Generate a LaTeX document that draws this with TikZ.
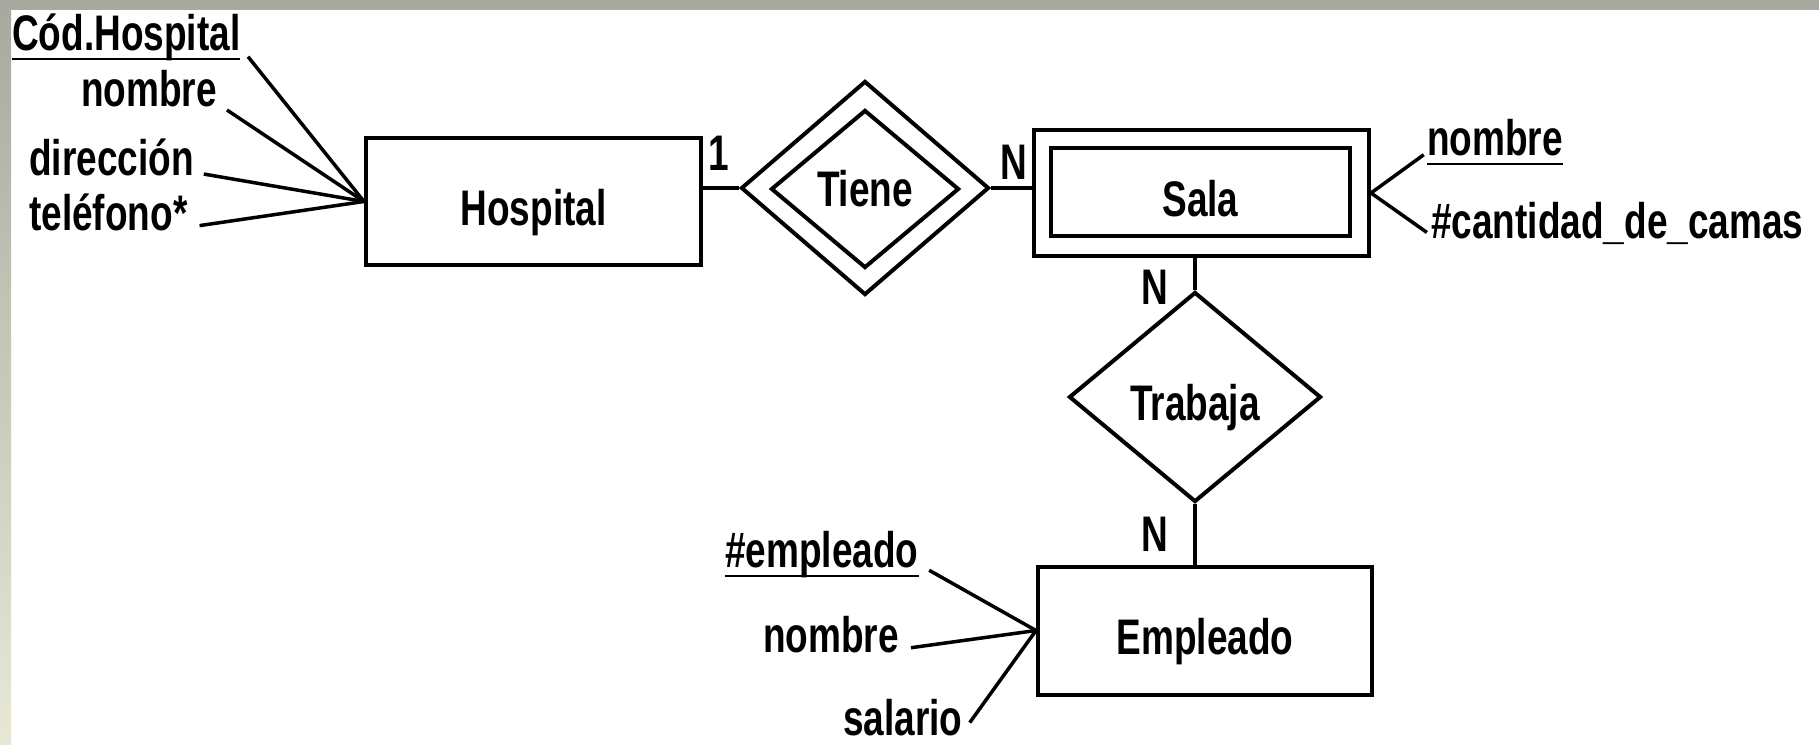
\documentclass[tikz,border=0pt]{standalone}
\usepackage{fontspec}
\setmainfont{Liberation Sans}[FakeStretch=0.74]
\usetikzlibrary{shapes.geometric}
\definecolor{bandgray}{RGB}{169,169,160}
\definecolor{bandbeige}{RGB}{232,232,213}
\newcommand{\erfont}{\fontsize{50}{60}\selectfont\bfseries}
\newcommand{\attrkey}[1]{\setbox0\hbox{#1}\rlap{\rule[-10pt]{\wd0}{2.5pt}}\box0}
\begin{document}
\begin{tikzpicture}[x=1pt,y=1pt,yscale=-1,
  every node/.style={font=\erfont, inner sep=0pt},
  entity/.style={draw, line width=4pt, rectangle, text height=48pt, text depth=0pt},
  relation/.style={draw, line width=4pt, diamond},
  link/.style={line width=3.5pt},
  attrlink/.style={line width=3.5pt, shorten <=#1},
  attrlink/.default=12pt]

%Background
\useasboundingbox (0,0) rectangle (1819,744);
\fill[white] (0,0) rectangle (1819,744);
\fill[bandgray] (0,0) rectangle (1819,10);
\shade[top color=bandgray, bottom color=bandbeige] (0,10) rectangle (11,744);

%Shape: Rectangle
\node[entity, minimum width=335pt, minimum height=127pt] (hosp) at (533.5,201.5) {Hospital};
%Shape: Diamond
\node[relation, minimum width=248pt, minimum height=214pt] (tiene) at (865,188) {};
\node[relation, minimum width=188pt, minimum height=158pt] (tieneIn) at (865,189) {Tiene};
%Shape: Rectangle
\node[entity, minimum width=335pt, minimum height=126pt] (sala) at (1201.5,193) {};
\node[entity, minimum width=299pt, minimum height=88pt] (salaIn) at (1200.5,192) {Sala};
%Shape: Diamond
\node[relation, minimum width=252pt, minimum height=210pt, text height=46pt, text depth=0pt] (trabaja) at (1195,397) {Trabaja};
%Shape: Rectangle
\node[entity, minimum width=334pt, minimum height=128pt] (emp) at (1205,630.5) {Empleado};

%Straight Lines
\draw[link] (tiene.west -| hosp.east) -- (tiene.west);
\draw[link] (tiene.east) -- (tiene.east -| sala.west);
\draw[link] (trabaja.north |- sala.south) -- (trabaja.north);
\draw[link] (trabaja.south) -- (trabaja.south |- emp.north);

% Text Node
\node (card1) at (719,153) {1};
\node (cardN1) at (1014,162) {N};
\node (cardN2) at (1155,287) {N};
\node (cardN3) at (1155,534) {N};

% Text Node
\node[anchor=base west] (hcod) at (12,50) {\attrkey{Cód.Hospital}};
\node[anchor=base east] (hnom) at (217,106) {nombre};
\node[anchor=base west] (hdir) at (29,175) {dirección};
\node[anchor=base west] (htel) at (29,230) {teléfono*};
\node[anchor=base west] (snom) at (1427,155) {\attrkey{nombre}};
\node[anchor=base west] (scam) at (1431,238) {\#cantidad\_de\_camas};
\node[anchor=base west] (enum) at (725,567) {\attrkey{\#empleado}};
\node[anchor=base west] (enom) at (763,652) {nombre};
\node[anchor=base west] (esal) at (843,735) {salario};

%Straight Lines
\draw[attrlink] (hcod.mid east) -- (hosp.west);
\draw[attrlink] (hnom.mid east) -- (hosp.west);
\draw[attrlink=10pt] (hdir.mid east) -- (hosp.west);
\draw[attrlink] (htel.mid east) -- (hosp.west);
\draw[attrlink=4pt] (snom.mid west) -- (sala.east);
\draw[attrlink=5pt] (scam.mid west) -- (sala.east);
\draw[attrlink] (enum.mid east) -- (emp.west);
\draw[attrlink] (enom.mid east) -- (emp.west);
\draw[attrlink] (esal.mid east) -- (emp.west);

\end{tikzpicture}
\end{document}
